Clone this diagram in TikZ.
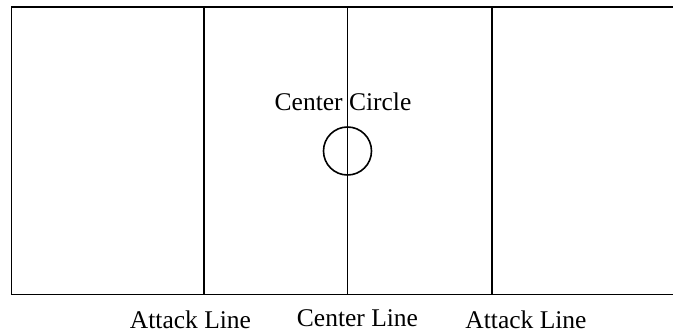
\documentclass[tikz,border=0pt]{standalone}
\usepackage{fontspec}
\setmainfont{Liberation Serif}
\begin{document}
\begin{tikzpicture}[x=1pt,y=-1pt,
  court/.style={line width=1.6pt,black},
  lbl/.style={inner sep=0pt,anchor=base,font=\fontsize{25.5}{30}\selectfont}]
\useasboundingbox (0,0) rectangle (673,332);
\fill[white] (0,0) rectangle (673,332);
% court outline (right edge lies outside the picture)
\coordinate (tl) at (11.5,7);
\coordinate (bl) at (11.5,294.5);
\coordinate (tr) at (673,7);
\coordinate (br) at (673,294.5);
\draw[court] (tr) -- (tl) -- (bl) -- (br);
% lines
\coordinate (a1t) at (204,6); \coordinate (a1b) at (204,294.5);
\coordinate (ct) at (347.5,6); \coordinate (cb) at (347.5,294.5);
\coordinate (a2t) at (492,6); \coordinate (a2b) at (492,294.5);
\draw[court] (a1t) -- (a1b);
\draw[court] (ct) -- (cb);
\draw[court] (a2t) -- (a2b);
% centre circle
\node[draw,circle,line width=1.6pt,minimum size=48pt,inner sep=0pt] (cc) at (347.5,151) {};
% labels
\node[lbl] (lcc) at (343,110.5) {Center Circle};
\node[lbl] (la1) at (190.5,328) {Attack Line};
\node[lbl] (lcl) at (357.5,326) {Center Line};
\node[lbl] (la2) at (526,328) {Attack Line};
\end{tikzpicture}
\end{document}
